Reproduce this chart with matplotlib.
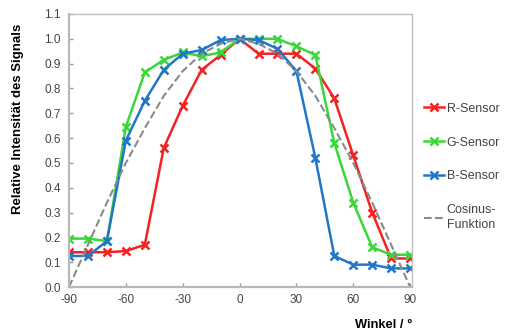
import matplotlib.pyplot as plt

plt.rcParams['font.family'] = ['Liberation Sans', 'DejaVu Sans']
plt.rcParams['axes.unicode_minus'] = False

winkel = [-90, -80, -70, -60, -50, -40, -30, -20, -10, 0, 10, 20, 30, 40, 50, 60, 70, 80, 90]
r_sensor = [0.14, 0.14, 0.14, 0.145, 0.17, 0.56, 0.73, 0.875, 0.935, 1.0,
            0.94, 0.94, 0.94, 0.88, 0.76, 0.53, 0.30, 0.115, 0.115]
g_sensor = [0.195, 0.195, 0.185, 0.645, 0.865, 0.915, 0.945, 0.93, 0.945, 1.0,
            1.0, 1.0, 0.97, 0.935, 0.58, 0.34, 0.16, 0.13, 0.13]
b_sensor = [0.125, 0.125, 0.185, 0.59, 0.75, 0.875, 0.94, 0.955, 0.995, 1.0,
            0.995, 0.96, 0.87, 0.52, 0.125, 0.09, 0.09, 0.075, 0.075]
cos_winkel = [-90, -80, -70, -60, -50, -40, -30, -20, -10, 0, 10, 20, 30, 40, 50, 60, 70, 80, 90]
cos_wert = [0.0, 0.17, 0.34, 0.5, 0.64, 0.77, 0.87, 0.94, 0.98, 1.0,
            0.98, 0.94, 0.87, 0.77, 0.64, 0.5, 0.34, 0.17, 0.0]

fig = plt.figure(figsize=(5.08, 3.31), dpi=100)
ax = fig.add_axes([69 / 508, 1 - 287 / 331, 343 / 508, 273 / 331])

ax.plot(winkel, r_sensor, color='#f52222', marker='x', markersize=6, mew=1.8, lw=1.8, label='R-Sensor')
ax.plot(winkel, g_sensor, color='#38d838', marker='x', markersize=6, mew=1.8, lw=1.8, label='G-Sensor')
ax.plot(winkel, b_sensor, color='#2277c4', marker='x', markersize=6, mew=1.8, lw=1.8, label='B-Sensor')
ax.plot(cos_winkel, cos_wert, color='#8a8a8a', linestyle='--', lw=1.5, label='Cosinus-\nFunktion')

ax.set_xlim(-90, 91)
ax.set_ylim(0, 1.1)
ax.set_xticks(range(-90, 91, 30))
ax.set_yticks([i / 10 for i in range(12)])
ax.set_yticklabels(['%.1f' % (i / 10) for i in range(12)])
ax.tick_params(labelsize=8.5, colors='#999999', direction='in', length=3, width=1, labelcolor='#444444')
ax.tick_params(axis='y', pad=6)
ax.tick_params(axis='x', pad=5)

for s in ['left', 'bottom']:
    ax.spines[s].set_color('#b8b8b8')
    ax.spines[s].set_linewidth(1.6)
for s in ['top', 'right']:
    ax.spines[s].set_color('#c0c0c0')
    ax.spines[s].set_linewidth(1)

ax.set_ylabel('Relative Intensität des Signals', fontsize=9.5, fontweight='bold')
ax.yaxis.set_label_coords(-0.13, 0.615)
ax.set_xlabel('Winkel / °', fontsize=9.3, fontweight='bold', va='center')
ax.xaxis.set_label_coords(1.0, -0.139)
ax.xaxis.label.set_horizontalalignment('right')

leg = ax.legend(loc='center left', bbox_to_anchor=(1.035, 0.44), frameon=False, fontsize=9,
                handlelength=1.6, handletextpad=0.2, labelspacing=1.75, borderpad=0,
                borderaxespad=0, labelcolor='#444444')
leg.get_texts()[3].set_linespacing(1.3)

plt.savefig('out.png', dpi=100)
